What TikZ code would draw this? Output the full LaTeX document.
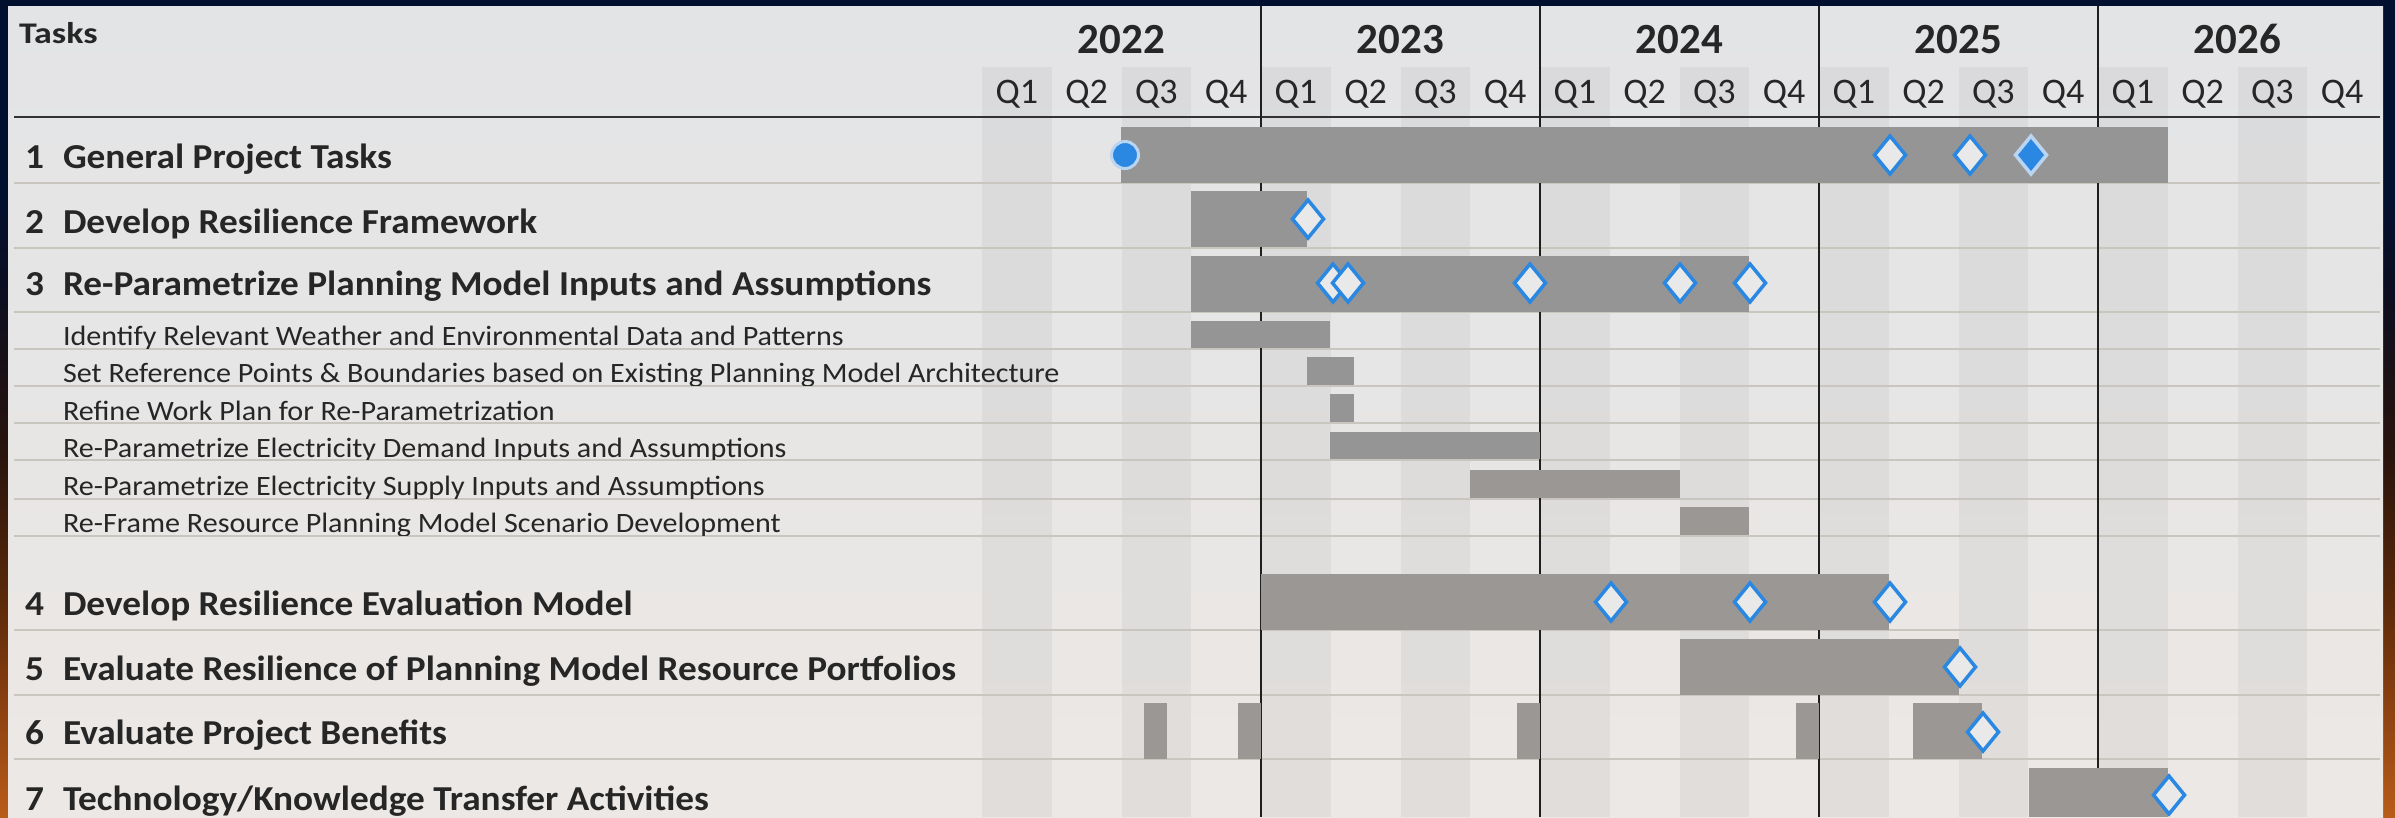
\documentclass[tikz,border=0pt]{standalone}
\usepackage{fontspec}
\setmainfont{Carlito}
\newfontfamily\mainlblfont{Carlito}[FakeStretch=1.065]
\newfontfamily\sublblfont{Carlito}[FakeStretch=1.075]
\newfontfamily\tasklblfont{Carlito}[FakeStretch=1.2]
\usetikzlibrary{shapes.geometric}

\definecolor{navy}{HTML}{021030}
\definecolor{frameDark}{HTML}{0C0E20}
\definecolor{frameUmber}{HTML}{2A140C}
\definecolor{frameBrown}{HTML}{5C2A0A}
\definecolor{frameRust}{HTML}{8A4010}
\definecolor{frameOrange}{HTML}{B85C1A}
\definecolor{panelTop}{HTML}{E3E4E6}
\definecolor{panelBot}{HTML}{ECE8E5}
\definecolor{barGray}{HTML}{959595}
\definecolor{barWarm}{HTML}{9A9794}
\definecolor{msBlue}{HTML}{2A88E3}
\definecolor{msHalo}{HTML}{B9D5F2}
\definecolor{msFill}{HTML}{E9E9E9}
\definecolor{ruleGray}{HTML}{C8C6BF}
\definecolor{inkDark}{HTML}{262626}

% outer frame: navy at the top, burnt orange at the bottom
\pgfdeclareverticalshading{frameshade}{100bp}{%
  color(0bp)=(frameOrange); color(25bp)=(frameOrange);
  color(32bp)=(frameRust); color(38bp)=(frameBrown);
  color(47bp)=(frameUmber); color(57bp)=(frameDark);
  color(63bp)=(navy); color(100bp)=(navy)}

\begin{document}
\begin{tikzpicture}[x=1pt,y=-1pt,
  lbl/.style={inner sep=0, outer sep=0, text=inkDark, anchor=base west},
  tasklbl/.style={lbl, font=\tasklblfont\fontsize{30}{34}\selectfont\bfseries},
  mainlbl/.style={lbl, font=\mainlblfont\fontsize{35}{40}\selectfont\bfseries},
  sublbl/.style={lbl, font=\sublblfont\fontsize{28}{32}\selectfont},
  yearlbl/.style={inner sep=0, text=inkDark, anchor=base, font=\fontsize{43}{48}\selectfont\bfseries},
  qlbl/.style={inner sep=0, text=inkDark, anchor=base, font=\fontsize{36}{40}\selectfont},
  colshade/.style={fill=black, fill opacity=0.045},
  rowrule/.style={draw=ruleGray, line width=2},
  yearrule/.style={draw=black!88, line width=2},
  headrule/.style={draw=black!80, line width=2.2},
  bar/.style={fill=barGray},
  warmbar/.style={fill=barWarm},
  msopen/.style={diamond, draw=msBlue, fill=msFill, line width=3.5,
    minimum width=31, minimum height=38, inner sep=0, outer sep=0},
  msdone/.style={msopen, draw=msHalo, fill=msBlue},
  msstart/.style={circle, draw=msHalo, fill=msBlue, line width=3,
    minimum size=27, inner sep=0, outer sep=0},
]
\useasboundingbox (0,0) rectangle (2395,817);

% frame and panel
\shade[shading=frameshade] (0,0) rectangle (2395,817);
\shade[top color=panelTop, bottom color=panelBot] (8,6) rectangle (2383,817);

% alternating quarter columns (Q1 and Q3 darker)
\foreach \i in {0,2,...,18}
  \fill[colshade] ({982+69.75*\i},67) rectangle ++(69.75,750);

% row rules
\foreach \y in {183,248,312,349,386,423,460,499,536,630,695,759}
  \draw[rowrule] (14,\y) -- (2380,\y);
\draw[headrule] (14,117) -- (2380,117);

% year boundaries
\foreach \x in {1261,1540,1819,2098}
  \draw[yearrule] (\x,6) -- (\x,817);

% ---- bars ----
% 1 General Project Tasks
\fill[bar] (1121,127) rectangle (2168,183);
% 2 Develop Resilience Framework
\fill[bar] (1191,191) rectangle (1307,247);
% 3 Re-Parametrize Planning Model
\fill[bar] (1191,256) rectangle (1749,312);
\fill[bar] (1191,321) rectangle (1330,348);
\fill[bar] (1307,357) rectangle (1354,385);
\fill[bar] (1330,394) rectangle (1354,422);
\fill[bar] (1330,432) rectangle (1540,459);
\fill[warmbar] (1470,470) rectangle (1680,498);
\fill[warmbar] (1680,507) rectangle (1749,535);
% 4 Develop Resilience Evaluation Model
\fill[warmbar] (1261,574) rectangle (1889,630);
% 5 Evaluate Resilience of Portfolios
\fill[warmbar] (1680,639) rectangle (1959,695);
% 6 Evaluate Project Benefits
\fill[warmbar] (1144,703) rectangle (1167,759);
\fill[warmbar] (1238,703) rectangle (1261,759);
\fill[warmbar] (1517,703) rectangle (1540,759);
\fill[warmbar] (1796,703) rectangle (1819,759);
\fill[warmbar] (1913,703) rectangle (1982,759);
% 7 Technology/Knowledge Transfer
\fill[warmbar] (2029,768) rectangle (2168,817);

% ---- milestones ----
\node[msstart] (m1s) at (1125,155) {};
\node[msopen] (m1a) at (1890,155) {};
\node[msopen] (m1b) at (1970,155) {};
\node[msdone] (m1c) at (2031,155) {};
\node[msopen] (m2a) at (1308,219) {};
\node[msopen] (m3a) at (1333,283) {};
\node[msopen] (m3b) at (1348,283) {};
\node[msopen] (m3c) at (1530,283) {};
\node[msopen] (m3d) at (1680,283) {};
\node[msopen] (m3e) at (1750,283) {};
\node[msopen] (m4a) at (1611,602) {};
\node[msopen] (m4b) at (1750,602) {};
\node[msopen] (m4c) at (1890,602) {};
\node[msopen] (m5a) at (1960,667) {};
\node[msopen] (m6a) at (1983,732) {};
\node[msopen] (m7a) at (2169,795) {};

% ---- header ----
\node[tasklbl] (tasks) at (19,43) {Tasks};
\foreach \yr [count=\k from 0] in {2022,2023,2024,2025,2026}
  \node[yearlbl] (y\yr) at ({982+279*(\k+0.5)},53) {\yr};
\foreach \i in {0,...,19}{
  \pgfmathtruncatemacro{\qq}{mod(\i,4)+1}
  \node[qlbl] (q\i) at ({982+69.75*(\i+0.5)},103) {Q\qq};
}

% ---- task labels ----
\node[mainlbl] (n1) at (25,168) {1};
\node[mainlbl] (t1) at (63,168) {General Project Tasks};
\node[mainlbl] (n2) at (25,233) {2};
\node[mainlbl] (t2) at (63,233) {Develop Resilience Framework};
\node[mainlbl] (n3) at (25,295) {3};
\node[mainlbl] (t3) at (63,295) {Re-Parametrize Planning Model Inputs and Assumptions};

\begin{scope}
  \clip (14,313) rectangle (1200,348);
  \node[sublbl] (s1) at (63,345) {Identify Relevant Weather and Environmental Data and Patterns};
\end{scope}
\begin{scope}
  \clip (14,350) rectangle (1200,385);
  \node[sublbl] (s2) at (63,382) {Set Reference Points \& Boundaries based on Existing Planning Model Architecture};
\end{scope}
\begin{scope}
  \clip (14,387) rectangle (1200,422);
  \node[sublbl] (s3) at (63,420) {Refine Work Plan for Re-Parametrization};
\end{scope}
\begin{scope}
  \clip (14,424) rectangle (1200,459);
  \node[sublbl] (s4) at (63,457) {Re-Parametrize Electricity Demand Inputs and Assumptions};
\end{scope}
\begin{scope}
  \clip (14,461) rectangle (1200,498);
  \node[sublbl] (s5) at (63,495) {Re-Parametrize Electricity Supply Inputs and Assumptions};
\end{scope}
\begin{scope}
  \clip (14,500) rectangle (1200,535);
  \node[sublbl] (s6) at (63,532) {Re-Frame Resource Planning Model Scenario Development};
\end{scope}

\node[mainlbl] (n4) at (25,615) {4};
\node[mainlbl] (t4) at (63,615) {Develop Resilience Evaluation Model};
\node[mainlbl] (n5) at (25,680) {5};
\node[mainlbl] (t5) at (63,680) {Evaluate Resilience of Planning Model Resource Portfolios};
\node[mainlbl] (n6) at (25,744) {6};
\node[mainlbl] (t6) at (63,744) {Evaluate Project Benefits};
\node[mainlbl] (n7) at (25,810) {7};
\node[mainlbl] (t7) at (63,810) {Technology/Knowledge Transfer Activities};
\end{tikzpicture}
\end{document}
